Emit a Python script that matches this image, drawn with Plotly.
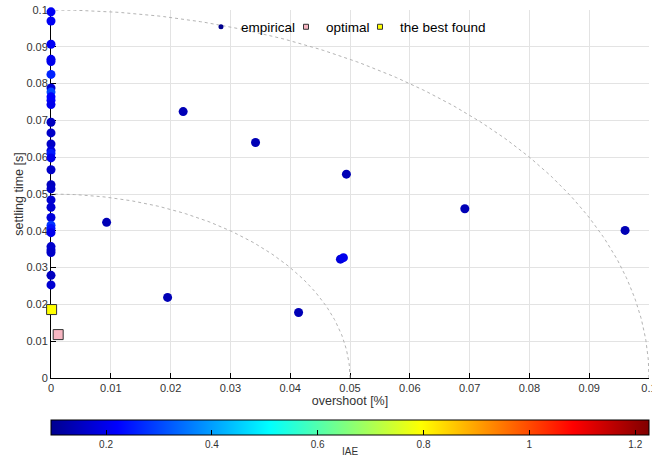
import numpy as np
import plotly.graph_objects as go

# ---- data ----
col_overshoot = [0.0] * 31
col_settling = [0.0995, 0.0970, 0.0907, 0.0866, 0.0860, 0.0825, 0.0788, 0.0777, 0.0764,
                0.0755, 0.0743, 0.0695, 0.0666, 0.0636, 0.0618, 0.0610, 0.0598, 0.0566,
                0.0525, 0.0514, 0.0484, 0.0464, 0.0436, 0.0415, 0.0406, 0.0395, 0.0357,
                0.0348, 0.0341, 0.0279, 0.0253]
col_iae = [0.21, 0.21, 0.21, 0.20, 0.20, 0.26, 0.17, 0.30, 0.22,
           0.22, 0.20, 0.15, 0.16, 0.16, 0.18, 0.25, 0.20, 0.16,
           0.15, 0.16, 0.17, 0.17, 0.18, 0.28, 0.24, 0.20, 0.16,
           0.17, 0.16, 0.15, 0.17]

sc_overshoot = [0.0093, 0.0221, 0.0342, 0.0494, 0.0195, 0.0414, 0.0484, 0.0489, 0.0692, 0.0960]
sc_settling = [0.0423, 0.0724, 0.0640, 0.0554, 0.0219, 0.0178, 0.0323, 0.0327, 0.0460, 0.0401]
sc_iae = [0.14, 0.14, 0.14, 0.14, 0.14, 0.14, 0.18, 0.20, 0.14, 0.14]

optimal_point = (0.0012, 0.0118)
best_point = (0.0001, 0.0186)

arc_radii = [0.05, 0.1]
iae_min, iae_max = 0.096, 1.226
x_ticks = [0, 0.01, 0.02, 0.03, 0.04, 0.05, 0.06, 0.07, 0.08, 0.09, 0.1]
cb_ticks = [0.2, 0.4, 0.6, 0.8, 1.0, 1.2]
cb_ticklabels = ["0.2", "0.4", "0.6", "0.8", "1", "1.2"]
legend_names = ["empirical", "optimal", "the best found"]

emp_x = col_overshoot + sc_overshoot
emp_y = col_settling + sc_settling
emp_c = col_iae + sc_iae

jet = [[0.0, "#00008F"], [0.111, "#0000FF"], [0.365, "#00FFFF"],
       [0.619, "#FFFF00"], [0.873, "#FF0000"], [1.0, "#800000"]]

FONT = "Liberation Sans, Arial, Helvetica, sans-serif"

fig = go.Figure()

# dashed arcs
for r in arc_radii:
    th = np.linspace(0, np.pi / 2, 200)
    fig.add_trace(go.Scatter(x=r * np.cos(th), y=r * np.sin(th), mode="lines",
                             line=dict(color="#b4b4b4", width=1, dash="3px,3px"),
                             hoverinfo="skip", showlegend=False))

fig.add_trace(go.Scatter(
    x=emp_x, y=emp_y, mode="markers", showlegend=False, cliponaxis=False,
    marker=dict(size=9, color=emp_c, colorscale=jet, cmin=iae_min, cmax=iae_max,
                line=dict(width=0),
                showscale=True,
                colorbar=dict(orientation="h", x=0, xanchor="left", len=1, lenmode="fraction",
                              y=-0.113, yanchor="top", thickness=15, xpad=0, ypad=0,
                              outlinecolor="black", outlinewidth=1,
                              ticks="inside", ticklen=5, tickcolor="black",
                              tickvals=cb_ticks, ticktext=cb_ticklabels,
                              tickfont=dict(size=10, color="#333", family=FONT),
                              title=dict(text="IAE", side="bottom",
                                         font=dict(size=10, color="#333", family=FONT)))),
))

fig.add_trace(go.Scatter(x=[best_point[0]], y=[best_point[1]], mode="markers",
                         showlegend=False, cliponaxis=False,
                         marker=dict(symbol="square", size=10, color="#ffff00",
                                     line=dict(color="#333", width=1))))
fig.add_trace(go.Scatter(x=[optimal_point[0]], y=[optimal_point[1]], mode="markers",
                         showlegend=False, cliponaxis=False,
                         marker=dict(symbol="square", size=10, color="#f7b6c2",
                                     line=dict(color="#333", width=1))))

# legend entries (one small legend each, to control placement)
fig.add_trace(go.Scatter(x=[None], y=[None], mode="markers", name=legend_names[0],
                         legend="legend",
                         marker=dict(size=5, color="#00008F")))
fig.add_trace(go.Scatter(x=[None], y=[None], mode="markers", name=legend_names[1],
                         legend="legend2",
                         marker=dict(symbol="square", size=5, color="#f7b6c2",
                                     line=dict(color="#333", width=1))))
fig.add_trace(go.Scatter(x=[None], y=[None], mode="markers", name=legend_names[2],
                         legend="legend3",
                         marker=dict(symbol="square", size=5, color="#ffff00",
                                     line=dict(color="#333", width=1))))

axis_common = dict(range=[0, 0.1], tickmode="array", tickvals=x_ticks,
                   ticktext=[("%g" % v) for v in x_ticks],
                   showgrid=True, gridcolor="#e3e3e3", gridwidth=1,
                   zeroline=False, showline=True, linecolor="black", linewidth=1,
                   ticks="inside", ticklen=5, tickcolor="black",
                   tickfont=dict(size=11, color="#333", family=FONT),
                   ticklabeloverflow="allow",
                   layer="below traces", automargin=False)

leg_common = dict(orientation="h", y=0.9538, xanchor="left", yanchor="middle",
                  bgcolor="rgba(0,0,0,0)", font=dict(size=13.5, color="black", family=FONT),
                  itemwidth=30)

fig.update_layout(
    width=652, height=465,
    margin=dict(l=51, r=3, t=10, b=87, autoexpand=False),
    paper_bgcolor="white", plot_bgcolor="white",
    font=dict(family=FONT, size=11, color="#333"),
    xaxis=dict(axis_common, title=dict(text="overshoot [%]", standoff=3,
                                       font=dict(size=12.5, color="#333"))),
    yaxis=dict(axis_common, title=dict(text="settling time [s]", standoff=0,
                                       font=dict(size=12.5, color="#333"))),
    legend=dict(leg_common, x=0.2508),
    legend2=dict(leg_common, x=0.393),
    legend3=dict(leg_common, x=0.5167),
    showlegend=True,
)

fig.write_html("out.html", config={"displayModeBar": False},
               post_script="document.body.style.margin='0';")
